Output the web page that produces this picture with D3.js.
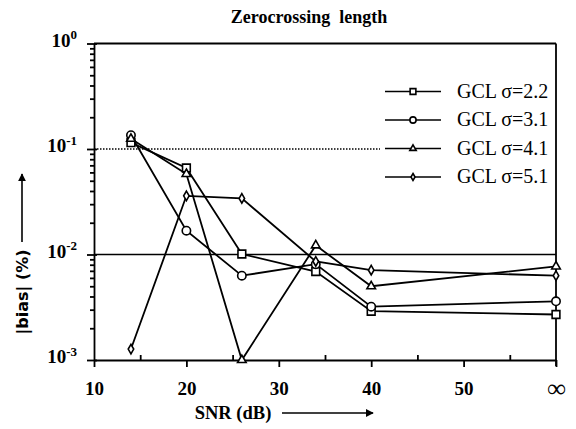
<!DOCTYPE html>
<html>
<head>
<meta charset="utf-8">
<script src="https://cdn.jsdelivr.net/npm/d3@7"></script>
<style>
  body { margin: 0; background: #fff; }
  svg { display: block; }
  .axis path, .axis line { stroke: #000; stroke-width: 1.8; }
  .tick text { font-family: "Liberation Serif", "DejaVu Serif", serif; font-weight: bold; font-size: 19px; fill: #000; }
  .series { fill: none; stroke: #000; stroke-width: 1.8; }
  .mark { fill: #fff; stroke: #000; stroke-width: 1.6; }
</style>
</head>
<body>
<div id="chart"></div>
<script>
// SNR positions (60 stands for infinity)
var snr = [14, 20, 26, 34, 40, 60]
var xTickVals = [10, 20, 30, 40, 50, 60]
var xTickLabels = ["10", "20", "30", "40", "50", "\u221e"]
var yDecades = [1, 0.1, 0.01, 0.001]
var yDecadeExp = ["0", "-1", "-2", "-3"]

// |bias| (%) per series
var gcl22 = [0.115, 0.066, 0.0101, 0.0069, 0.0029, 0.0027]
var gcl31 = [0.135, 0.0168, 0.0063, 0.0081, 0.0032, 0.0036]
var gcl41 = [0.125, 0.058, 0.001, 0.0122, 0.0050, 0.0077]
var gcl51 = [0.00127, 0.036, 0.034, 0.0086, 0.0071, 0.0063]

var seriesNames = ["GCL \u03c3=2.2", "GCL \u03c3=3.1", "GCL \u03c3=4.1", "GCL \u03c3=5.1"]
var seriesData = [gcl22, gcl31, gcl41, gcl51]
var markerTypes = [d3.symbolSquare, d3.symbolCircle, d3.symbolTriangle, d3.symbolDiamond]
var markerSizes = [60, 55, 32, 26]

var W = 576, H = 429
var margin = {top: 43.5, right: 20, bottom: 69, left: 94}
var width = W - margin.left - margin.right
var height = H - margin.top - margin.bottom

var svg = d3.select("#chart").append("svg")
    .attr("width", W)
    .attr("height", H)

var g = svg.append("g")
    .attr("transform", "translate(" + margin.left + "," + margin.top + ")")

var xScale = d3.scaleLinear().domain([10, 60]).range([0, width])
var yScale = d3.scaleLog().domain([0.001, 1]).range([height, 0])

// reference lines: dotted at 10^-1 (stops before legend), solid at 10^-2
g.append("line")
    .attr("x1", 0).attr("x2", 286)
    .attr("y1", yScale(0.1)).attr("y2", yScale(0.1))
    .attr("stroke", "#000").attr("stroke-width", 1.5)
    .attr("stroke-dasharray", "1.5,1.5")
g.append("line")
    .attr("x1", 0).attr("x2", width)
    .attr("y1", yScale(0.01)).attr("y2", yScale(0.01))
    .attr("stroke", "#000").attr("stroke-width", 1.3)

// frame top/right
g.append("line").attr("x1", 0).attr("x2", width).attr("y1", 0).attr("y2", 0)
    .attr("stroke", "#000").attr("stroke-width", 1.8)
g.append("line").attr("x1", width).attr("x2", width).attr("y1", 0).attr("y2", height + 6)
    .attr("stroke", "#000").attr("stroke-width", 1.8)

// minor y ticks
var minorY = []
for (var d = 0; d < 3; d++) {
    for (var k = 2; k <= 9; k++) minorY.push(k * yDecades[d + 1])
}
g.append("g").attr("class", "axis")
    .call(d3.axisLeft(yScale).tickValues(minorY).tickSize(4).tickFormat(""))
    .select(".domain").remove()

// major y axis
var yAxis = g.append("g").attr("class", "axis")
    .call(d3.axisLeft(yScale).tickValues(yDecades).tickSizeInner(7).tickSizeOuter(0).tickFormat(""))
yAxis.selectAll(".tick line").attr("x2", -7).attr("x1", 3)
yAxis.selectAll(".tick").each(function(v, i) {
    var t = d3.select(this).append("text")
        .attr("x", -17).attr("dy", "0.15em")
        .attr("text-anchor", "end")
    t.append("tspan").text("10")
    t.append("tspan").attr("font-size", "13px").attr("dy", "-0.6em").text(yDecadeExp[i])
})

// x axis: major ticks outward, minor inward
var xAxis = g.append("g").attr("class", "axis")
    .attr("transform", "translate(0," + height + ")")
    .call(d3.axisBottom(xScale).tickValues(xTickVals).tickSizeInner(7).tickSizeOuter(0)
        .tickFormat(function(d, i) { return xTickLabels[i] }))
xAxis.selectAll(".tick text").attr("dy", "1.3em")
xAxis.selectAll(".tick text").filter(function(d) { return d === 60 })
    .style("font-size", "26px").attr("dy", "1.05em")
g.append("g").attr("class", "axis")
    .attr("transform", "translate(0," + height + ")")
    .call(d3.axisBottom(xScale).tickValues([15, 25, 35, 45, 55]).tickSize(-5).tickFormat(""))
    .select(".domain").remove()

// lines and markers
var line = d3.line()
    .x(function(d, i) { return xScale(snr[i]) })
    .y(function(d) { return yScale(d) })

seriesData.forEach(function(vals, s) {
    g.append("path").datum(vals).attr("class", "series").attr("d", line)
    var sym = d3.symbol().type(markerTypes[s]).size(markerSizes[s])
    g.selectAll(".m" + s).data(vals).enter().append("path")
        .attr("class", "mark")
        .attr("transform", function(d, i) { return "translate(" + xScale(snr[i]) + "," + yScale(d) + ")" })
        .attr("d", sym)
})

// legend
var legend = svg.append("g")
seriesNames.forEach(function(name, s) {
    var ly = 91.5 + s * 28.5
    legend.append("line").attr("x1", 385).attr("x2", 441).attr("y1", ly).attr("y2", ly)
        .attr("stroke", "#000").attr("stroke-width", 1.6)
    legend.append("path").attr("class", "mark")
        .attr("transform", "translate(413," + ly + ")")
        .attr("d", d3.symbol().type(markerTypes[s]).size(markerSizes[s] * 0.55))
    legend.append("text").attr("x", 457).attr("y", ly + 6)
        .style("font-family", "'Liberation Serif', serif").style("font-size", "20px")
        .text(name)
})

// title
svg.append("text")
    .attr("x", 309).attr("y", 23)
    .attr("text-anchor", "middle")
    .attr("xml:space", "preserve")
    .style("font-family", "'Liberation Serif', serif").style("font-weight", "bold").style("font-size", "18px")
    .text("Zerocrossing  length")

// x label and arrow
svg.append("text")
    .attr("x", 233).attr("y", 419)
    .attr("text-anchor", "middle")
    .style("font-family", "'Liberation Serif', serif").style("font-weight", "bold").style("font-size", "18.5px")
    .text("SNR (dB)")

svg.append("defs").append("marker")
    .attr("id", "arrow").attr("viewBox", "0 0 10 10")
    .attr("refX", 9).attr("refY", 5)
    .attr("markerWidth", 8).attr("markerHeight", 8)
    .attr("markerUnits", "userSpaceOnUse")
    .attr("orient", "auto")
  .append("path").attr("d", "M0,0 L10,5 L0,10 z").attr("fill", "#000")

svg.append("line").attr("x1", 282).attr("x2", 373).attr("y1", 413).attr("y2", 413)
    .attr("stroke", "#000").attr("stroke-width", 1.6).attr("marker-end", "url(#arrow)")

// y label and arrow
svg.append("text")
    .attr("transform", "translate(28,292) rotate(-90)")
    .attr("text-anchor", "middle")
    .style("font-family", "'DejaVu Sans', sans-serif").style("font-weight", "bold").style("font-size", "16px")
    .text("|bias| (%)")

svg.append("line").attr("x1", 22).attr("x2", 22).attr("y1", 242).attr("y2", 174)
    .attr("stroke", "#000").attr("stroke-width", 1.6).attr("marker-end", "url(#arrow)")
</script>
</body>
</html>
